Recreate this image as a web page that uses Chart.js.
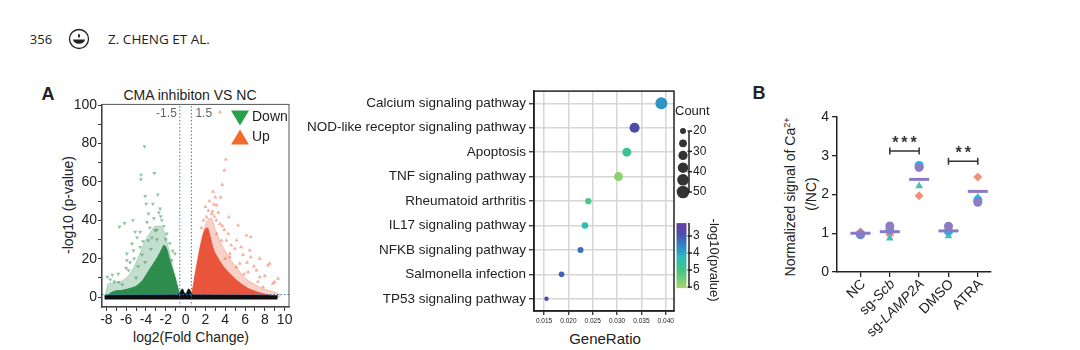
<!DOCTYPE html>
<html>
<head>
<meta charset="utf-8">
<script src="https://cdn.jsdelivr.net/npm/chart.js@4.4.0/dist/chart.umd.min.js"></script>
<style>
  body { margin:0; background:#fff; width:1080px; height:350px; overflow:hidden; position:relative; font-family: Arial, "Liberation Sans", sans-serif; color:#222; }
  canvas { position:absolute; }
  .c { position:absolute; transform:translate(-50%,-50%); line-height:1; white-space:nowrap; }
  .r { position:absolute; transform:translate(-50%,-50%) rotate(-90deg); line-height:1; white-space:nowrap; }
</style>
</head>
<body>

<div class="c" style="left:41px;top:39px;font:13px 'Open Sans';color:#222">356</div>
<svg width="22" height="22" style="position:absolute;left:68px;top:28px">
  <circle cx="11" cy="11" r="9.5" fill="none" stroke="#222" stroke-width="1.3"/>
  <path d="M5 11.5 h12 a6 4.2 0 0 1 -12 0z" fill="#222"/>
  <path d="M11 5.5 q2.2 2.3 0 4.6 q-2.2 -2.3 0 -4.6z" fill="#222"/>
</svg>
<div class="c" style="left:159px;top:39px;font:13.5px 'Open Sans';color:#222">Z. CHENG ET AL.</div>

<div class="c" style="left:48px;top:94px;font:bold 18px Arial">A</div>
<div class="c" style="left:759px;top:93px;font:bold 18px Arial">B</div>

<div class="c" style="left:190px;top:95px;font:14px Arial">CMA inhibiton VS NC</div>
<div class="r" style="left:68px;top:205px;font:14px Arial">-log10 (p-value)</div>
<div class="c" style="left:191px;top:337px;font:14px Arial">log2(Fold Change)</div>
<div class="c" style="left:605px;top:338px;font:15px Arial">GeneRatio</div>
<div class="r" style="left:790px;top:197px;font:14px Arial">Normalized signal of Ca<sup style="font-size:9px">2+</sup></div>
<div class="r" style="left:811px;top:194px;font:14px Arial">(/NC)</div>

<canvas id="volcano" width="260" height="240" style="left:40px;top:95px"></canvas>
<canvas id="dots" width="435" height="250" style="left:295px;top:80px"></canvas>
<canvas id="calcium" width="320" height="250" style="left:740px;top:100px"></canvas>

<script>
// ---- volcano plot (panel A, left) ----
const xTicksV = [-8,-7,-6,-5,-4,-3,-2,-1,0,1,2,3,4,5,6,7,8,9,10]
const yTicksV = [0,10,20,30,40,50,60,70,80,90,100]
const fcCut = [-0.585, 0.585]
const pCut = 1.3

// dense clouds of points, upper edge
const downSoft = [[-8.1,1],[-7.8,7],[-7.0,7.5],[-6.2,9],[-5.5,13],[-5.0,18],[-4.5,24],[-4.0,30],[-3.5,34],[-3.0,37],[-2.5,37],[-2.1,33],[-1.7,25],[-1.3,16],[-1.0,9],[-0.75,4],[-0.55,1]]
const downDense = [[-7.9,1],[-7.2,3],[-6.4,3.5],[-5.6,4.5],[-4.9,6],[-4.3,9],[-3.8,13],[-3.3,17],[-2.8,21],[-2.4,25],[-2.2,27],[-1.9,25],[-1.6,19],[-1.3,14],[-1.05,10],[-0.8,5],[-0.6,1]]
const upSoft = [[0.55,1],[0.75,6],[1.0,14],[1.4,25],[1.8,34],[2.2,40],[2.6,41],[3.0,35],[3.5,29],[4.0,24],[4.6,19],[5.2,15],[6.0,10],[7.0,6.5],[8.0,4],[9.0,2.5],[9.6,1]]
const upDense = [[0.6,1],[0.8,6],[0.95,11],[1.2,18],[1.45,25],[1.7,31],[1.95,35],[2.2,36],[2.5,31],[2.8,25],[3.3,20],[3.8,16],[4.5,12],[5.1,9],[5.7,6.5],[6.3,4.5],[7.0,3],[7.6,2],[8.5,1]]
const notSig = [[-8.2,0.6],[-6,0.8],[-3,0.9],[-1,1.0],[-0.62,1.3],[-0.48,3.2],[-0.33,4.2],[-0.18,2.6],[0,1.6],[0.15,2.6],[0.3,4.2],[0.45,3.4],[0.6,1.3],[1,1.0],[3,0.9],[6,0.8],[9.3,0.6]]

// single genes standing out of the clouds
const downPts = [[-4.15,78.5],[-4.49,63.7],[-3.15,64.6],[-4.52,61.3],[-4.08,52.6],[-2.81,53.3],[-3.98,48.6],[-3.31,48.6],[-2.58,46],[-6.67,36.5],[-6.17,38.5],[-5.32,40],[-4.59,33.9],[-5.42,27.8],[-5.93,22.6],[-7.6,9.1],[-6.77,7.8],[-3.75,43.4],[-5.09,33.9],[-5.93,19.1],[-5.76,13.9],[-3.75,29.5],[-4.59,26],[-3.08,34.7],[-2.4,40],[-1.9,33],[-5.26,24.3],[-4.08,18.2],[-1.4,19.1],[-1.07,22.6],[-6.4,6.5],[-7.2,8],[-5.0,10],[-2.9,30],[-3.5,25],[-4.8,16],[-2.2,37],[-1.6,28],[-3.6,36],[-4.3,29],[-2.7,44],[-5.6,18],[-6.8,12],[-7.9,10.5],[-7.4,11.5],[-3.9,39],[-2.5,42],[-3.2,41],[-4.9,31],[-2.0,30],[-1.3,24],[-2.9,35],[-4.4,22],[-5.2,20],[-3.4,31],[-6.0,15]]
const upPts = [[3.46,96.4],[4.06,71.7],[3.9,66],[3.7,58.5],[2.76,55],[3.53,52],[2.86,48.3],[4.37,41.7],[2.72,44.6],[2.12,41.7],[5.3,37.3],[6.58,31.3],[7.48,20],[6.58,20.8],[4.97,25.2],[8.32,16.5],[9.33,9.6],[9,7.8],[6.31,13],[5.14,15.6],[4.47,22.6],[7.48,10.4],[3.13,33],[3.63,29.5],[3.13,47.8],[2.63,43.4],[3.46,38.2],[6.15,32.1],[5.14,29.5],[6.48,24.3],[5.47,17.4],[7.15,13.9],[8.49,17.4],[7.82,5.2],[4.47,20.8],[4.13,29.5],[2.4,50],[3.1,40],[3.9,35],[4.6,27],[5.8,22],[6.9,16],[8.0,11],[8.8,7],[5.9,12],[2.0,47],[1.8,40],[3.3,44],[4.0,20],[7.3,8],[2.3,45],[1.6,36],[2.9,42],[3.7,37],[4.3,33],[5.6,26],[6.2,18],[3.0,52]]

// ---- enrichment dot plot (panel A, right) ----
const pathways = ['Calcium signaling pathway','NOD-like receptor signaling pathway','Apoptosis','TNF signaling pathway','Rheumatoid arthritis','IL17 signaling pathway','NFKB signaling pathway','Salmonella infection','TP53 signaling pathway']
const geneRatio = [0.0391, 0.0336, 0.0320, 0.0303, 0.0241, 0.0234, 0.0225, 0.0186, 0.0155]
const geneCount = [46, 36, 31, 31, 21, 22, 20, 19, 16]
const logP = [3.75, 2.8, 4.8, 5.8, 5.1, 4.3, 3.3, 3.2, 2.5]
const ratioTicks = [0.015, 0.020, 0.025, 0.030, 0.035, 0.040]
const countLegend = [20, 26, 32, 38, 44, 50]
const countTicks = [20, 30, 40, 50]
const pTicks = [3, 4, 5, 6]
const pRange = [2.24, 6.06]
const pColors = [[2.24,'#6b3fa0'],[2.9,'#4a4eaa'],[3.6,'#2f88c8'],[4.3,'#2fbcb6'],[5.0,'#45c384'],[6.06,'#a6d46a']]

// ---- calcium signal (panel B) ----
const groups = ['NC','sg-Scb','sg-LAMP2A','DMSO','ATRA']
const groupItalic = ['', 'Scb', 'LAMP2A', '', '']
const rep1 = [0.97, 1.19, 2.70, 1.18, 1.80]
const rep2 = [0.96, 1.08, 2.75, 1.06, 1.86]
const rep3 = [1.00, 0.87, 2.22, 0.93, 1.93]
const rep4 = [1.04, 0.97, 1.97, 1.00, 2.45]
const groupMean = [1.00, 1.04, 2.39, 1.06, 2.08]
const sigFrom = [1, 3]
const sigTo = [2, 4]
const sigY = [3.12, 2.86]
const sigText = ['***', '**']

Chart.defaults.font.family = 'Arial, "Liberation Sans", sans-serif'
Chart.defaults.color = '#222'

const xy = arr => arr.map(p => ({x: p[0], y: p[1]}))

const hexRgb = h => [1,3,5].map(i => parseInt(h.substr(i,2),16))
const colorOf = v => {
  for (let i = 0; i < pColors.length - 1; i++) {
    const [v0, c0] = pColors[i], [v1, c1] = pColors[i+1]
    if (v <= v1 || i === pColors.length - 2) {
      const t = Math.max(0, Math.min(1, (v - v0) / (v1 - v0)))
      const a = hexRgb(c0), b = hexRgb(c1)
      return `rgb(${a.map((x,k) => Math.round(x + (b[k]-x)*t)).join(',')})`
    }
  }
}
const radiusOf = n => Math.sqrt(Math.max(2, 9 + (n - 20) * 1.023))

const frame = {
  id: 'frame',
  afterDraw(c, args, o) {
    const {ctx, chartArea: a} = c
    ctx.save()
    ctx.strokeStyle = o.color
    ctx.lineWidth = o.width
    ctx.strokeRect(a.left, a.top, a.right - a.left, a.bottom - a.top)
    ctx.restore()
  }
}

const cloud = (pts, color, order, base) => ({
  type: 'line', data: xy(pts), order: order,
  borderColor: color, backgroundColor: color, borderWidth: 1,
  pointRadius: 0, cubicInterpolationMode: 'monotone', fill: {value: base}
})
const cutLine = (pts) => ({
  type: 'line', data: xy(pts), order: 0,
  borderColor: '#2f7fc1', borderWidth: 1, borderDash: [1.5, 2], pointRadius: 0, fill: false
})

const volcanoExtras = {
  id: 'volcanoExtras',
  afterDraw(c) {
    const {ctx, chartArea: a, scales: {x}} = c
    ctx.save()
    ctx.font = '12px Arial'
    ctx.fillStyle = '#666'
    ctx.textBaseline = 'middle'
    ctx.textAlign = 'right'
    ctx.fillText('-1.5', x.getPixelForValue(fcCut[0]) - 3, a.top + 9)
    ctx.textAlign = 'left'
    ctx.fillText('1.5', x.getPixelForValue(fcCut[1]) + 4, a.top + 9)
    // legend
    const tx = a.right - 49
    ctx.fillStyle = '#28a24a'
    ctx.beginPath(); ctx.moveTo(tx - 9, a.top + 6); ctx.lineTo(tx + 9, a.top + 6); ctx.lineTo(tx, a.top + 21); ctx.closePath(); ctx.fill()
    ctx.fillStyle = '#f26b2d'
    ctx.beginPath(); ctx.moveTo(tx - 9, a.top + 40); ctx.lineTo(tx + 9, a.top + 40); ctx.lineTo(tx, a.top + 25); ctx.closePath(); ctx.fill()
    ctx.fillStyle = '#222'
    ctx.font = '14px Arial'
    ctx.fillText('Down', tx + 12, a.top + 13)
    ctx.fillText('Up', tx + 12, a.top + 33)
    ctx.restore()
  }
}

new Chart(document.getElementById('volcano'), {
  type: 'scatter',
  data: {
    datasets: [
      cutLine([[fcCut[0], -5.2], [fcCut[0], 100.4]]),
      cutLine([[fcCut[1], -5.2], [fcCut[1], 100.4]]),
      cutLine([[-8.44, pCut], [10.44, pCut]]),
      cloud(notSig, '#0d0d0d', 1, -1.3),
      { data: xy(downPts), order: 2, pointStyle: 'triangle', rotation: 180, pointRadius: 2.3, backgroundColor: 'rgba(52,145,80,0.55)', borderWidth: 0 },
      { data: xy(upPts), order: 2, pointStyle: 'triangle', pointRadius: 2.3, backgroundColor: 'rgba(238,105,78,0.55)', borderWidth: 0 },
      cloud(downDense, '#2e8c4c', 3, -0.5),
      cloud(upDense, '#e9553a', 3, -0.5),
      cloud(downSoft, 'rgba(58,150,88,0.3)', 4, -0.5),
      cloud(upSoft, 'rgba(236,100,70,0.3)', 4, -0.5)
    ]
  },
  options: {
    responsive: false, animation: false, devicePixelRatio: 1, events: [],
    layout: { padding: {left: 0, top: 9, right: 11, bottom: 0}, autoPadding: false },
    plugins: { legend: {display: false}, tooltip: {enabled: false}, frame: {color: '#555', width: 1} },
    scales: {
      x: {
        type: 'linear', min: -8.44, max: 10.44,
        afterBuildTicks: s => { s.ticks = xTicksV.map(v => ({value: v})) },
        afterFit: s => { s.height = 28 },
        ticks: { autoSkip: false, maxRotation: 0, padding: 1, font: {size: 14}, callback: v => v % 2 === 0 ? v : '' },
        grid: { drawOnChartArea: false, tickLength: 4, color: '#333' },
        border: { color: '#333', width: 1.2 }
      },
      y: {
        type: 'linear', min: -5.2, max: 100.4,
        afterBuildTicks: s => { s.ticks = yTicksV.map(v => ({value: v})) },
        afterFit: s => { s.width = 62 },
        ticks: { autoSkip: false, padding: 1, font: {size: 14}, callback: v => v % 20 === 0 ? v : '' },
        grid: { drawOnChartArea: false, tickLength: 4, color: '#333' },
        border: { color: '#333', width: 1.2 }
      }
    }
  },
  plugins: [frame, volcanoExtras]
})

const dotLegend = {
  id: 'dotLegend',
  afterDraw(c) {
    const {ctx, chartArea: a} = c
    ctx.save()
    ctx.fillStyle = '#222'
    ctx.textBaseline = 'middle'
    ctx.textAlign = 'left'
    ctx.font = '13px Arial'
    ctx.fillText('Count', a.right + 1, a.top + 20)
    const cx = a.right + 9, y0 = a.top + 40, step = 2.03, bx = a.right + 15
    ctx.fillStyle = '#333'
    countLegend.forEach(n => {
      ctx.beginPath(); ctx.arc(cx, y0 + (n - 20) * step, radiusOf(n), 0, 2 * Math.PI); ctx.fill()
    })
    ctx.strokeStyle = '#222'
    ctx.lineWidth = 1.5
    ctx.beginPath(); ctx.moveTo(bx, y0); ctx.lineTo(bx, y0 + 30 * step); ctx.stroke()
    ctx.font = '12px Arial'
    ctx.fillStyle = '#222'
    countTicks.forEach(n => {
      const y = y0 + (n - 20) * step
      ctx.beginPath(); ctx.moveTo(bx - 1.5, y); ctx.lineTo(bx + 3, y); ctx.stroke()
      ctx.fillText(n, bx + 4, y)
    })
    // colour bar
    const top = a.top + 132, bot = a.top + 197, pxPer = (bot - top) / (pRange[1] - pRange[0])
    const g = ctx.createLinearGradient(0, top, 0, bot)
    pColors.forEach(s => g.addColorStop((s[0] - pRange[0]) / (pRange[1] - pRange[0]), s[1]))
    ctx.fillStyle = g
    ctx.fillRect(a.right + 2.5, top, 10, bot - top)
    ctx.beginPath(); ctx.moveTo(bx, top); ctx.lineTo(bx, bot); ctx.stroke()
    ctx.fillStyle = '#222'
    pTicks.forEach(v => {
      const y = top + (v - pRange[0]) * pxPer
      ctx.beginPath(); ctx.moveTo(bx - 1.5, y); ctx.lineTo(bx + 3, y); ctx.stroke()
      ctx.fillText(v, bx + 4, y)
    })
    ctx.font = '13px Arial'
    ctx.translate(a.right + 40, a.top + 169)
    ctx.rotate(Math.PI / 2)
    ctx.textAlign = 'center'
    ctx.fillText('-log10(pvalue)', 0, 0)
    ctx.restore()
  }
}

new Chart(document.getElementById('dots'), {
  type: 'scatter',
  data: {
    datasets: [{
      data: pathways.map((p, i) => ({x: geneRatio[i], y: p})),
      pointRadius: ctx => radiusOf(geneCount[ctx.dataIndex]),
      backgroundColor: ctx => colorOf(logP[ctx.dataIndex]),
      borderWidth: 0
    }]
  },
  options: {
    responsive: false, animation: false, devicePixelRatio: 1, events: [],
    layout: { padding: {left: 0, top: 6, right: 56, bottom: 0}, autoPadding: false },
    plugins: { legend: {display: false}, tooltip: {enabled: false}, frame: {color: '#222', width: 1.5} },
    scales: {
      x: {
        type: 'linear', min: 0.01294, max: 0.0417,
        afterBuildTicks: s => { s.ticks = ratioTicks.map(v => ({value: v})) },
        afterFit: s => { s.height = 19 },
        ticks: { autoSkip: false, maxRotation: 0, padding: 2, font: {size: 6.5}, callback: v => v.toFixed(3) },
        grid: { color: '#d6d6d6', lineWidth: 1.5, tickLength: 4, tickColor: '#222', tickWidth: 1.2 },
        border: { color: '#222', width: 1.5 }
      },
      y: {
        type: 'category', labels: pathways, offset: true,
        afterFit: s => { s.width = 239 },
        ticks: { autoSkip: false, padding: 3, font: {size: 13.5}, color: '#222' },
        grid: { color: '#d6d6d6', lineWidth: 1.5, tickLength: 5, tickColor: '#222', tickWidth: 1.2 },
        border: { color: '#222', width: 1.5 }
      }
    }
  },
  plugins: [frame, dotLegend]
})

const calciumExtras = {
  id: 'calciumExtras',
  afterDraw(c) {
    const {ctx, chartArea: a, scales: {x, y}} = c
    ctx.save()
    ctx.strokeStyle = '#333'
    ctx.fillStyle = '#333'
    ctx.lineWidth = 1.5
    sigFrom.forEach((f, i) => {
      const x1 = x.getPixelForValue(f), x2 = x.getPixelForValue(sigTo[i]), yy = y.getPixelForValue(sigY[i])
      ctx.beginPath()
      ctx.moveTo(x1, yy); ctx.lineTo(x2, yy)
      ctx.moveTo(x1, yy - 3.5); ctx.lineTo(x1, yy + 3.5)
      ctx.moveTo(x2, yy - 3.5); ctx.lineTo(x2, yy + 3.5)
      ctx.stroke()
      ctx.font = 'bold 16px Arial'
      ctx.textAlign = 'center'
      ctx.textBaseline = 'middle'
      ctx.letterSpacing = '3px'
      ctx.fillText(sigText[i], (x1 + x2) / 2 + 1.5, yy - 8)
      ctx.letterSpacing = '0px'
    })
    // rotated group names, with the italic gene part
    ctx.fillStyle = '#222'
    ctx.textBaseline = 'middle'
    ctx.textAlign = 'right'
    groups.forEach((g, i) => {
      const it = groupItalic[i]
      const plain = g.slice(0, g.length - it.length)
      ctx.save()
      ctx.translate(x.getPixelForValue(i) + 3, a.bottom + 10)
      ctx.rotate(-Math.PI / 4)
      ctx.font = 'italic 14px Arial'
      const w = it ? ctx.measureText(it).width : 0
      if (it) ctx.fillText(it, 0, 0)
      ctx.font = '14px Arial'
      ctx.fillText(plain, -w, 0)
      ctx.restore()
    })
    ctx.restore()
  }
}

const repSet = (vals, style, color, order) => ({
  data: vals.map((v, i) => ({x: i, y: v})), order: order,
  pointStyle: style, pointRadius: 4.5, backgroundColor: color, borderWidth: 0
})

new Chart(document.getElementById('calcium'), {
  type: 'scatter',
  data: {
    datasets: [
      { data: groupMean.map((v, i) => ({x: i, y: v})), order: 0, pointStyle: 'line', pointRadius: 10, borderColor: '#8a79c9', borderWidth: 3 },
      repSet(rep1, 'circle', '#8e7cc3', 1),
      repSet(rep2, 'circle', '#22b4e8', 2),
      repSet(rep3, 'triangle', '#4dbdb4', 3),
      repSet(rep4, 'rectRot', '#f28f79', 4)
    ]
  },
  options: {
    responsive: false, animation: false, devicePixelRatio: 1, events: [],
    layout: { padding: {left: 0, top: 17, right: 69, bottom: 0}, autoPadding: false },
    plugins: { legend: {display: false}, tooltip: {enabled: false} },
    scales: {
      x: {
        type: 'linear', min: -0.8, max: 4.45,
        afterBuildTicks: s => { s.ticks = groups.map((g, i) => ({value: i})) },
        afterFit: s => { s.height = 78 },
        ticks: { display: false },
        grid: { drawOnChartArea: false, tickLength: 5, color: '#222', lineWidth: 1.3 },
        border: { color: '#222', width: 1.5 }
      },
      y: {
        type: 'linear', min: 0, max: 4,
        afterBuildTicks: s => { s.ticks = [0,1,2,3,4].map(v => ({value: v})) },
        afterFit: s => { s.width = 97 },
        ticks: { padding: 3, font: {size: 14} },
        grid: { drawOnChartArea: false, tickLength: 5, color: '#222', lineWidth: 1.3 },
        border: { color: '#222', width: 1.5 }
      }
    }
  },
  plugins: [calciumExtras]
})
</script>
</body>
</html>
